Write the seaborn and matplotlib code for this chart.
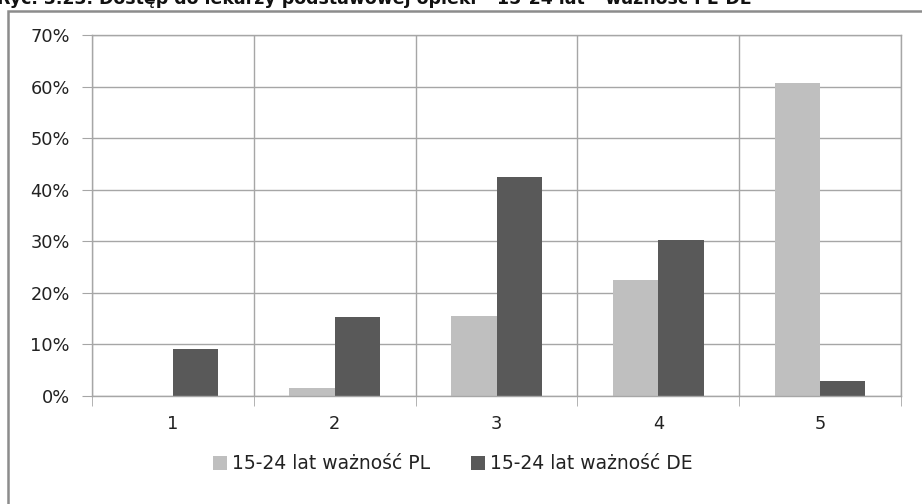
import pandas as pd
import matplotlib.pyplot as plt
import matplotlib.ticker as mticker
from matplotlib.patches import Rectangle
import seaborn as sns

categories = ['1', '2', '3', '4', '5']
pl_values = [0.0, 1.5, 15.5, 22.5, 60.6]
de_values = [9.1, 15.3, 42.4, 30.2, 3.0]
series_names = ['15-24 lat ważność PL', '15-24 lat ważność DE']
title = 'Ryc. 3.23. Dostęp do lekarzy podstawowej opieki – 15-24 lat – ważność PL-DE'

df = pd.DataFrame({
    'kat': categories * 2,
    'val': pl_values + de_values,
    'seria': [series_names[0]] * 5 + [series_names[1]] * 5,
})

sns.set_style('white')
plt.rcParams['font.family'] = ['DejaVu Sans']

fig = plt.figure(figsize=(9.22, 5.04), dpi=100)
ax = fig.add_axes([92 / 922, 1 - 396 / 504, (901 - 92) / 922, (396 - 35) / 504])

sns.barplot(data=df, x='kat', y='val', hue='seria', ax=ax,
            palette=['#bfbfbf', '#595959'], width=0.56, gap=0,
            saturation=1, edgecolor='none')

ax.set_ylim(0, 70)
ax.set_xlim(-0.5, 4.5)
ax.set_yticks(range(0, 71, 10))
ax.yaxis.set_major_formatter(mticker.FuncFormatter(lambda v, p: f'{v:.0f}%'))
ax.set_xticks(range(5))
ax.set_xticklabels(categories)
ax.set_xticks([i - 0.5 for i in range(6)], minor=True)
ax.set_xlabel('')
ax.set_ylabel('')

grid_c = '#a6a6a6'
ax.grid(axis='y', which='major', color=grid_c, linewidth=1)
ax.grid(axis='x', which='minor', color=grid_c, linewidth=1)
ax.set_axisbelow(True)
for s in ax.spines.values():
    s.set_color(grid_c)
    s.set_linewidth(1)
ax.tick_params(axis='y', which='major', length=7, color=grid_c, labelsize=12.8,
               labelcolor='#222222', pad=9, left=True)
ax.tick_params(axis='x', which='major', length=0, labelsize=12.8,
               labelcolor='#222222', pad=14)
ax.tick_params(axis='x', which='minor', length=7, color=grid_c, bottom=True)

ax.legend(loc='upper center', bbox_to_anchor=(0.446, -0.115), ncol=2, frameon=False,
          fontsize=13.5, handlelength=0.75, handleheight=0.75, handletextpad=0.27,
          columnspacing=2.2, labelcolor='#222222')

fig.patches.append(Rectangle((8 / 922, -0.1), 1.0, 1.1 - 11 / 504,
                             transform=fig.transFigure, fill=False,
                             edgecolor='#8c8c8c', linewidth=1.8))
fig.text(-0.003, 1 - 4 / 504, title, fontsize=12.5, fontweight='bold', ha='left',
         va='baseline', color='#111111')

fig.savefig('out.png', dpi=100)
